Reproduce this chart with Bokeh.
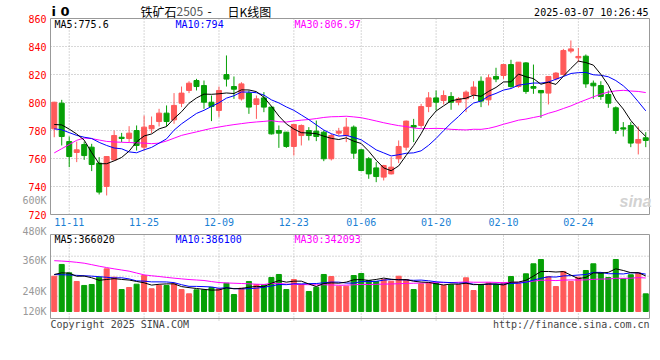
import numpy as np
import pandas as pd
from bokeh.plotting import figure
from bokeh.models import Range1d, Label, ColumnDataSource
from bokeh.core.properties import value
from bokeh.embed import file_html
from bokeh.resources import INLINE

# ---------------- data ----------------
dates = ["11-07", "11-08", "11-11", "11-12", "11-13", "11-14", "11-15", "11-18", "11-19", "11-20",
         "11-21", "11-22", "11-25", "11-26", "11-27", "11-28", "11-29", "12-02", "12-03", "12-04",
         "12-05", "12-06", "12-09", "12-10", "12-11", "12-12", "12-13", "12-16", "12-17", "12-18",
         "12-19", "12-20", "12-23", "12-24", "12-25", "12-26", "12-27", "12-30", "12-31", "01-02",
         "01-03", "01-06", "01-07", "01-08", "01-09", "01-10", "01-13", "01-14", "01-15", "01-16",
         "01-17", "01-20", "01-21", "01-22", "01-23", "01-24", "01-27", "02-05", "02-06", "02-07",
         "02-10", "02-11", "02-12", "02-13", "02-14", "02-17", "02-18", "02-19", "02-20", "02-21",
         "02-24", "02-25", "02-26", "02-27", "02-28", "03-03", "03-04", "03-05", "03-06", "03-07"]

opens = [781.2, 799.5, 772.1, 764.3, 770.0, 768.1, 756.7, 740.0, 759.0, 775.2,
         774.3, 780.0, 768.1, 781.2, 786.4, 792.4, 787.6, 799.5, 808.6, 815.7,
         812.1, 800.2, 794.3, 820.0, 811.4, 802.6, 806.7, 798.6, 803.3, 796.7,
         780.0, 778.8, 768.6, 776.4, 780.0, 779.5, 778.8, 759.8, 778.1, 776.4,
         782.4, 766.2, 759.8, 753.3, 746.7, 749.0, 759.8, 768.1, 783.6, 783.6,
         797.1, 803.3, 801.4, 804.3, 800.2, 802.6, 805.7, 815.2, 801.9, 818.6,
         819.3, 827.1, 811.4, 828.3, 811.4, 808.6, 806.7, 816.9, 820.0, 836.7,
         831.9, 833.1, 813.8, 812.1, 805.7, 796.2, 781.9, 783.6, 771.0, 774.8]
highs = [800.5, 801.9, 775.7, 772.1, 772.1, 770.5, 761.0, 761.4, 780.0, 778.3,
         783.1, 783.6, 790.7, 790.0, 795.5, 797.9, 806.7, 811.4, 815.2, 816.9,
         815.7, 805.0, 811.4, 833.6, 818.6, 814.5, 808.6, 805.0, 807.4, 797.2,
         783.6, 779.0, 784.5, 784.3, 782.4, 787.1, 780.0, 777.6, 781.9, 789.0,
         783.6, 766.9, 761.0, 757.4, 755.5, 761.0, 772.9, 787.1, 788.3, 799.0,
         807.4, 808.6, 808.6, 807.4, 803.8, 808.6, 815.2, 818.6, 820.0, 824.8,
         827.6, 830.5, 828.8, 828.8, 827.1, 808.8, 818.6, 821.7, 838.3, 844.3,
         839.0, 834.3, 815.7, 815.2, 808.6, 797.2, 786.0, 786.0, 782.9, 778.8]
lows = [775.2, 769.3, 753.8, 757.4, 759.0, 751.0, 734.3, 733.6, 758.6, 771.7,
        771.7, 765.7, 765.7, 778.1, 782.9, 782.9, 784.8, 796.7, 806.7, 808.6,
        795.5, 786.7, 789.5, 811.4, 802.6, 801.4, 791.9, 788.3, 793.1, 777.1,
        767.6, 767.6, 762.1, 769.3, 772.9, 772.4, 758.1, 758.6, 776.4, 771.7,
        759.8, 751.0, 745.5, 743.1, 744.3, 748.6, 756.7, 765.7, 771.7, 781.9,
        793.1, 794.3, 798.6, 794.8, 798.0, 793.1, 802.6, 796.7, 797.9, 814.5,
        816.9, 810.5, 810.5, 806.2, 806.2, 789.0, 798.6, 815.7, 819.3, 835.2,
        828.8, 810.5, 802.6, 801.9, 796.2, 777.6, 775.7, 768.1, 762.9, 768.1]
closes = [800.2, 775.7, 761.4, 766.2, 762.1, 755.7, 736.0, 761.4, 776.4, 774.3,
          778.1, 769.3, 782.4, 783.6, 792.4, 786.4, 797.9, 806.7, 813.8, 811.4,
          800.2, 797.1, 808.6, 816.7, 809.5, 813.3, 796.7, 802.6, 796.7, 777.6,
          778.1, 768.6, 784.3, 783.6, 776.4, 775.7, 759.8, 776.4, 779.5, 782.4,
          763.8, 751.4, 749.0, 747.1, 755.0, 753.8, 768.6, 786.7, 782.4, 797.1,
          803.3, 800.2, 805.0, 800.2, 802.6, 807.4, 811.0, 801.0, 817.6, 816.7,
          827.1, 811.4, 828.8, 807.9, 810.2, 806.9, 818.6, 821.0, 837.1, 838.3,
          832.9, 813.3, 811.9, 804.3, 799.5, 780.0, 781.0, 771.0, 773.6, 772.9]
volumes = [363000, 484000, 398000, 309000, 268000, 278000, 353000, 439000, 353000, 226000,
           247000, 281000, 370000, 234000, 268000, 268000, 285000, 226000, 182000, 223000,
           223000, 247000, 234000, 291000, 175000, 240000, 309000, 278000, 275000, 350000,
           381000, 226000, 329000, 275000, 206000, 250000, 381000, 360000, 260000, 260000,
           370000, 391000, 319000, 309000, 329000, 312000, 363000, 329000, 226000, 285000,
           295000, 291000, 268000, 275000, 275000, 347000, 216000, 278000, 295000, 278000,
           295000, 360000, 285000, 388000, 491000, 535000, 360000, 257000, 412000, 309000,
           353000, 422000, 491000, 398000, 350000, 535000, 336000, 378000, 398000, 182000]

# moving-average values before enough bars are on the chart
ma5_head = [784.3, 784.0, 781.0, 777.5]
ma10_head = [781.2, 780.5, 778.5, 776.5, 775.2, 774.3, 771.5, 769.3, 767.5]
ma30_head = [764.0, 767.0, 770.0, 773.0, 774.6, 774.2, 773.2, 772.2, 771.8, 771.6,
             771.4, 771.2, 771.0, 770.6, 771.0, 772.5, 774.5, 776.5, 777.8, 779.0,
             780.3, 781.5, 782.5, 783.4, 784.2, 784.9, 785.6, 786.1, 786.5]
vma5_head = [381000, 398000, 394000, 363000]
vma10_head = [380000, 378000, 376000, 372000, 368000, 364000, 358000, 352000, 345000]
vma30_head = [523000, 519000, 514000, 506000, 497000, 482000, 466000, 452000, 439000, 427000,
              415000, 396000, 377000, 368000, 360000, 351000, 343000, 336000, 329000, 324000,
              319000, 308000, 298000, 294000, 291000, 288000, 285000, 281000, 278000]

label_dates = ["11-11", "11-25", "12-09", "12-23", "01-06", "01-20", "02-10", "02-24"]
price_ticks = [720, 740, 760, 780, 800, 820, 840, 860]
vol_tick_labels = ["480K", "360K", "240K", "120K"]

title_code = "i 0"
title_name = ["铁矿石", "2505", "-", "日K线图"]
timestamp = "2025-03-07 10:26:45"
ma_texts = ["MA5:775.6", "MA10:794", "MA30:806.97"]
vma_texts = ["MA5:366020", "MA10:386100", "MA30:342093"]

# ---------------- derived ----------------
def moving_avg(vals, n, head):
    s = pd.Series(vals, dtype=float).rolling(n).mean().to_numpy()
    s[:len(head)] = head
    return s

n = len(dates)
idx = np.arange(n)
o = np.array(opens); c = np.array(closes)
RED = "#ff5a5a"
GREEN = "#06a006"
colors = [RED if cc >= oo else GREEN for oo, cc in zip(o, c)]

src = ColumnDataSource(dict(
    x=idx, high=highs, low=lows,
    top=np.maximum(o, c), bottom=np.minimum(o, c), color=colors,
    vol=volumes, vbase=np.zeros(n),
    ma5=moving_avg(closes, 5, ma5_head), ma10=moving_avg(closes, 10, ma10_head),
    ma30=moving_avg(closes, 30, ma30_head),
    vma5=moving_avg(volumes, 5, vma5_head), vma10=moving_avg(volumes, 10, vma10_head),
    vma30=moving_avg(volumes, 30, vma30_head),
))
date_ticks = [dates.index(d) for d in label_dates]

MONO = "DejaVu Sans Mono"
BORDER = "#999999"
GRID = "#b0b0b0"

# layout geometry (pixels of the 660x360 canvas)
W, H = 660, 360
X_L, X_R = 50.0, 649.0                 # plot panels left/right
PXU = (X_R - X_L) / n                  # pixels per bar
P_TOP, P_BOT = 18.0, 214.0             # price panel
V_TOP, V_BOT, V_BASE = 234.0, 318.0, 311.0   # volume panel and bar baseline
PPU = (P_BOT - P_TOP) / (price_ticks[-1] - price_ticks[0])   # px per price unit
VPX = 10290.0                          # volume units per px

def fx(X):
    return -0.5 + (X - X_L) / PXU
def ay(Y):
    return price_ticks[-1] - (Y - P_TOP) / PPU
def by(Y):
    return (V_BASE - Y) * VPX

p = figure(width=W, height=H, x_range=Range1d(fx(0), fx(W)), y_range=Range1d(ay(H), ay(0)),
           output_backend="svg", toolbar_location=None, title=None,
           x_axis_location=None, y_axis_location=None, min_border=0)
p.outline_line_color = None
p.xgrid.visible = False
p.ygrid.visible = False
p.extra_y_ranges = {"vol": Range1d(by(H), by(0))}

xl, xr = fx(X_L), fx(X_R)

# ---- grids (dotted) ----
inner_prices = price_ticks[1:-1]
p.segment(x0=[xl] * len(inner_prices), x1=[xr] * len(inner_prices), y0=inner_prices, y1=inner_prices,
          line_color=GRID, line_dash="1 2", line_width=1)
p.segment(x0=date_ticks, x1=date_ticks, y0=[price_ticks[0]] * len(date_ticks),
          y1=[price_ticks[-1]] * len(date_ticks), line_color=GRID, line_dash="1 2", line_width=1)
vgrid_y = [by(255.7), by(275.7), by(295.7)]
p.segment(x0=[xl] * 3, x1=[xr] * 3, y0=vgrid_y, y1=vgrid_y, line_color=GRID, line_dash="1 2",
          line_width=1, y_range_name="vol")
p.segment(x0=date_ticks, x1=date_ticks, y0=[by(V_BOT + 2)] * len(date_ticks),
          y1=[by(V_TOP)] * len(date_ticks), line_color=GRID, line_dash="1 2", line_width=1,
          y_range_name="vol")

# ---- candles ----
p.segment(x0="x", y0="low", x1="x", y1="high", color="color", line_width=1, source=src)
p.vbar(x="x", width=5 / PXU, top="top", bottom="bottom", fill_color="color", line_color="color",
       line_width=1, source=src)
p.line("x", "ma30", color="#ff00ff", line_width=1, source=src)
p.line("x", "ma10", color="#0000ff", line_width=1, source=src)
p.line("x", "ma5", color="#000000", line_width=1, source=src)

# ---- volume ----
p.vbar(x="x", width=5 / PXU, top="vol", bottom="vbase", fill_color="color", line_color="color",
       line_width=1, source=src, y_range_name="vol")
p.line("x", "vma30", color="#ff00ff", line_width=1, source=src, y_range_name="vol")
p.line("x", "vma10", color="#0000ff", line_width=1, source=src, y_range_name="vol")
p.line("x", "vma5", color="#000000", line_width=1, source=src, y_range_name="vol")

# ---- panel borders ----
p.quad(left=[xl], right=[xr], bottom=[price_ticks[0]], top=[price_ticks[-1]],
       fill_color=None, line_color=BORDER, line_width=1)
p.quad(left=[xl], right=[xr], bottom=[by(V_BOT)], top=[by(V_TOP)],
       fill_color=None, line_color=BORDER, line_width=1, y_range_name="vol")

# ---- axis tick labels ----
p.text(x=[fx(46)] * len(price_ticks), y=price_ticks, text=[str(t) for t in price_ticks],
       text_align="right", text_baseline="middle", text_color="#ff0000",
       text_font=value(MONO), text_font_size="10px")
p.text(x=date_ticks, y=[ay(221)] * len(date_ticks), text=label_dates,
       text_align="center", text_baseline="middle", text_color="#1a7fd4",
       text_font=value(MONO), text_font_size="10px")
p.text(x=[fx(46)] * len(vol_tick_labels), y=[by(230.7), by(260), by(291), by(311)],
       text=vol_tick_labels, text_align="right", text_baseline="middle", text_color="#999999",
       text_font=value(MONO), text_font_size="10px", y_range_name="vol")

def lab(X, Y, text, color="#000000", size="10px", font=MONO, align="left", style="normal"):
    p.add_layout(Label(x=fx(X), y=ay(Y), text=text, text_color=color, text_font_size=size,
                       text_font=font, text_align=align, text_baseline="middle", text_font_style=style))

lab(51, 11, title_code, size="13px", font="DejaVu Sans", style="bold")
lab(140, 11, title_name[0], size="12px", font="Noto Sans CJK SC")
lab(176, 11, title_name[1], color="#555555", size="12px", font="Noto Sans CJK SC")
lab(207, 11, title_name[2], size="12px", font="Noto Sans CJK SC")
lab(227, 11, title_name[3], size="12px", font="Noto Sans CJK SC")
lab(648, 12, timestamp, align="right")
lab(54, 24, ma_texts[0], color="#000000")
lab(175, 24, ma_texts[1], color="#0000ff")
lab(294, 24, ma_texts[2], color="#ff00ff")
lab(46, 200, "600K", color="#999999", align="right")
lab(619, 201, "sina", color="#d2d2d2", size="16px", font="Liberation Sans", style="bold italic")
lab(54, 238.5, vma_texts[0], color="#000000")
lab(175, 238.5, vma_texts[1], color="#0000ff")
lab(294, 238.5, vma_texts[2], color="#ff00ff")
lab(50, 323.5, "Copyright 2025 SINA.COM", color="#444444")
lab(649, 323.5, "http://finance.sina.com.cn", color="#444444", align="right")

open("out.html", "w").write(file_html(p, INLINE))
